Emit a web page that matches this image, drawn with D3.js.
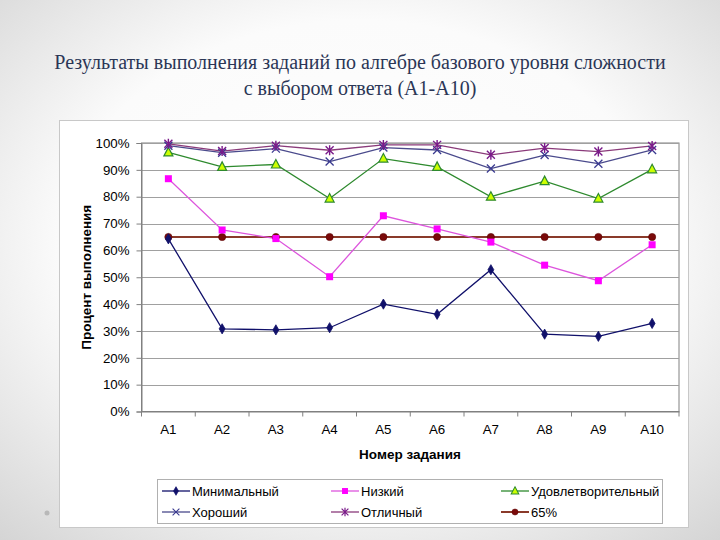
<!DOCTYPE html>
<html><head><meta charset="utf-8">
<script src="https://cdn.jsdelivr.net/npm/d3@7"></script>
<style>html,body{margin:0;padding:0;background:#fff;}svg{display:block;}</style>
</head><body>
<svg id="chart" width="720" height="540"></svg>
<script>
const categories = ["A1","A2","A3","A4","A5","A6","A7","A8","A9","A10"];
const minimal = [64.3,30.8,30.4,31.2,40.0,36.2,52.8,28.8,28.0,32.8];
const low = [86.7,67.6,64.4,50.2,72.9,68.0,63.1,54.5,48.7,62.1];
const satisfactory = [96.5,91.1,92.0,79.3,94.2,91.1,80.0,85.8,79.3,90.2];
const good = [99.0,96.4,97.9,93.1,98.3,97.4,90.5,95.5,92.3,97.4];
const excellent = [99.7,97.0,99.0,97.3,99.3,99.3,95.6,98.1,96.8,98.9];
const threshold = [65,65,65,65,65,65,65,65,65,65];
const yTicks = [0,10,20,30,40,50,60,70,80,90,100];
const seriesNames = ["Минимальный","Низкий","Удовлетворительный","Хороший","Отличный","65%"];
const titleLines = ["Результаты выполнения заданий по алгебре базового уровня сложности","с выбором ответа (A1-A10)"];

(function(){
const series = [
  {name: seriesNames[0], values: minimal, line:"#10106a", marker:"diamond", fill:"#10106a", stroke:"#10106a"},
  {name: seriesNames[1], values: low, line:"#dd55dd", marker:"square", fill:"#ff00ff", stroke:"#ff00ff"},
  {name: seriesNames[2], values: satisfactory, line:"#2e8a2e", marker:"triangle", fill:"#ccff00", stroke:"#2e8a2e"},
  {name: seriesNames[3], values: good, line:"#4a4a8c", marker:"x", fill:"none", stroke:"#3a3a90"},
  {name: seriesNames[4], values: excellent, line:"#8a3a7a", marker:"star", fill:"none", stroke:"#7a1a8a"},
  {name: seriesNames[5], values: threshold, line:"#8a3a2a", marker:"circle", fill:"#7a0a0a", stroke:"#5a0000"}
];
const sans = "Liberation Sans, Arial, sans-serif";

const svg = d3.select("#chart");
const defs = svg.append("defs");
const rg = defs.append("radialGradient").attr("id","bg").attr("cx","50%").attr("cy","45%").attr("r","75%");
rg.append("stop").attr("offset","0%").attr("stop-color","#ffffff");
rg.append("stop").attr("offset","55%").attr("stop-color","#fbfbfb");
rg.append("stop").attr("offset","100%").attr("stop-color","#d4d4d4");
svg.append("rect").attr("width",720).attr("height",540).attr("fill","url(#bg)");

svg.append("circle").attr("cx",47).attr("cy",513).attr("r",2.5).attr("fill","#b8b8b8");

svg.append("g").selectAll("text").data(titleLines).join("text")
  .attr("x",360).attr("y",(d,i)=>69+i*26)
  .attr("text-anchor","middle")
  .attr("font-family","'Liberation Serif', 'Times New Roman', serif")
  .attr("font-size",20).attr("fill","#2b3656")
  .text(d=>d);

svg.append("rect").attr("x",59.5).attr("y",120.5).attr("width",629).attr("height",407)
  .attr("fill","#ffffff").attr("stroke","#c8c8c8").attr("stroke-width",1);

const pL = 141.5, pR = 679, pT = 143, pB = 411.5;
const x = d3.scaleBand().domain(categories).range([pL,pR]);
const y = d3.scaleLinear().domain([0,100]).range([pB,pT]);

svg.append("rect").attr("x",pL).attr("y",pT).attr("width",pR-pL).attr("height",pB-pT)
  .attr("fill","none").attr("stroke","#808080").attr("stroke-width",1);

svg.append("g").selectAll("line").data(yTicks.filter(t=>t>0)).join("line")
  .attr("x1",pL).attr("x2",pR).attr("y1",d=>Math.round(y(d))+0.5).attr("y2",d=>Math.round(y(d))+0.5)
  .attr("stroke","#a0a0a0").attr("stroke-width",1);

const yAxis = d3.axisLeft(y).tickValues(yTicks).tickFormat(d=>d+"%").tickSize(5).tickPadding(7);
const gy = svg.append("g").attr("transform",`translate(${pL},0)`).call(yAxis);
gy.select(".domain").attr("stroke","#808080");
gy.selectAll(".tick line").attr("stroke","#808080");
gy.selectAll(".tick text").attr("font-family",sans).attr("font-size",13.3).attr("fill","#000");

const xAxis = d3.axisBottom(x).tickSize(0).tickPadding(13);
const gx = svg.append("g").attr("transform",`translate(0,${pB})`).call(xAxis);
gx.select(".domain").attr("stroke","#808080");
gx.selectAll(".tick text").attr("font-family",sans).attr("font-size",13.3).attr("fill","#000");
svg.append("g").selectAll("line").data(d3.range(categories.length+1)).join("line")
  .attr("x1",i=>pL+i*x.step()).attr("x2",i=>pL+i*x.step())
  .attr("y1",pB).attr("y2",pB+5).attr("stroke","#808080");

svg.append("text").attr("transform",`translate(91,${(pT+pB)/2}) rotate(-90)`)
  .attr("text-anchor","middle").attr("font-family",sans)
  .attr("font-size",13.5).attr("font-weight","bold").text("Процент выполнения");
svg.append("text").attr("x",410).attr("y",459)
  .attr("text-anchor","middle").attr("font-family",sans)
  .attr("font-size",13.5).attr("font-weight","bold").text("Номер задания");

function drawMarker(g, type, s){
  if(type==="diamond"){
    g.append("path").attr("d",d3.symbol(d3.symbolDiamond, 30)()).attr("fill",s.fill).attr("stroke",s.stroke).attr("stroke-width",0.8);
  } else if(type==="square"){
    g.append("rect").attr("x",-3.5).attr("y",-3.5).attr("width",7).attr("height",7).attr("fill",s.fill);
  } else if(type==="triangle"){
    g.append("path").attr("d","M0,-5L4.5,3.5L-4.5,3.5Z").attr("fill",s.fill).attr("stroke",s.stroke).attr("stroke-width",1.2);
  } else if(type==="x"){
    g.append("path").attr("d","M-4,-4L4,4M-4,4L4,-4").attr("stroke",s.stroke).attr("stroke-width",1.3).attr("fill","none");
  } else if(type==="star"){
    g.append("path").attr("d","M-4,-4L4,4M-4,4L4,-4M0,-5V5").attr("stroke",s.stroke).attr("stroke-width",1.4).attr("fill","none");
  } else if(type==="circle"){
    g.append("circle").attr("r",3.6).attr("fill",s.fill).attr("stroke",s.stroke).attr("stroke-width",0.6);
  }
}

const cx = d => x(d) + x.bandwidth()/2;
const drawOrder = [5,0,1,2,3,4];
drawOrder.forEach(si=>{
  const s = series[si];
  const line = d3.line().x((v,i)=>cx(categories[i])).y(v=>y(v));
  svg.append("path").datum(s.values).attr("d",line).attr("fill","none")
    .attr("stroke",s.line).attr("stroke-width", si===5?2:1.3);
});
drawOrder.forEach(si=>{
  const s = series[si];
  svg.append("g").selectAll("g").data(s.values).join("g")
    .attr("transform",(v,i)=>`translate(${cx(categories[i])},${y(v)})`)
    .each(function(){ drawMarker(d3.select(this), s.marker, s); });
});

svg.append("rect").attr("x",157.5).attr("y",479.5).attr("width",505).attr("height",44)
  .attr("fill","#fff").attr("stroke","#b0b0b0");
const colX = [162, 331, 501];
const rowY = [491, 512];
series.forEach((s,i)=>{
  const c = i%3, r = Math.floor(i/3);
  const g = svg.append("g").attr("transform",`translate(${colX[c]},${rowY[r]})`);
  g.append("line").attr("x1",0).attr("x2",28).attr("y1",0).attr("y2",0).attr("stroke",s.line).attr("stroke-width", i===5?2:1.3);
  const m = g.append("g").attr("transform","translate(14,0) scale(0.85)");
  drawMarker(m, s.marker, s);
  g.append("text").attr("x",30).attr("y",4.5).attr("font-family",sans)
    .attr("font-size",13).attr("fill","#000").text(s.name);
});
})();
</script>
</body></html>
